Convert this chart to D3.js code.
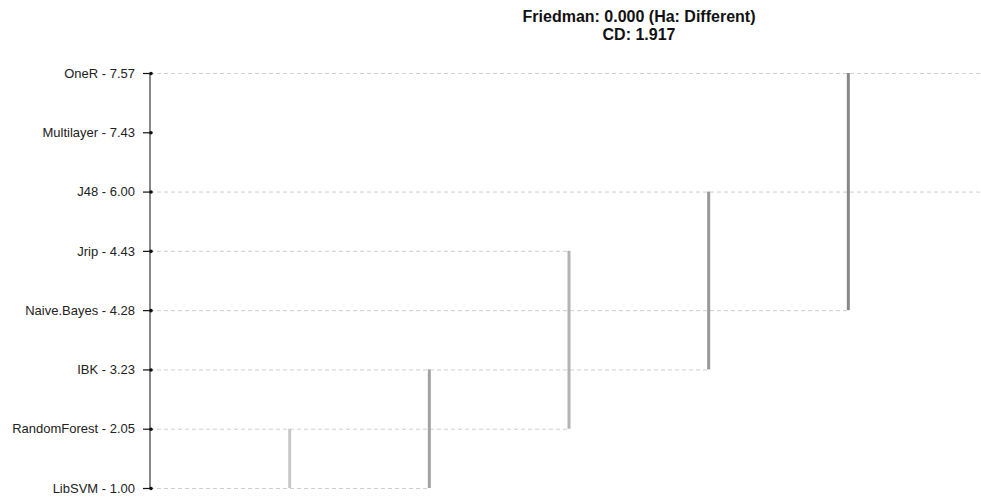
<!DOCTYPE html>
<html><head><meta charset="utf-8">
<script src="https://cdn.jsdelivr.net/npm/d3@7"></script>
<style>body{margin:0;background:#fff}svg{display:block}</style>
</head><body><svg id="c" width="981" height="497"></svg>
<script>
const categories = ["OneR","Multilayer","J48","Jrip","Naive.Bayes","IBK","RandomForest","LibSVM"];
const ranks = [7.57, 7.43, 6.00, 4.43, 4.28, 3.23, 2.05, 1.00];
// critical-difference groups: [from category, to category]
const groupFrom = ["LibSVM","LibSVM","RandomForest","IBK","Naive.Bayes"];
const groupTo = ["RandomForest","IBK","Jrip","J48","OneR"];
const groupColors = ["#c8c8c8","#a2a2a2","#b2b2b2","#999999","#888888"];
// gridline reach per category: index of group bar it reaches (-1 none, 99 full width)
const gridReach = [99, -1, 99, 3, 5, 4, 3, 2];
const title1 = "Friedman: 0.000 (Ha: Different)";
const title2 = "CD: 1.917";

const svg = d3.select("#c");
const W = 981;
const y = d3.scalePoint().domain(categories).range([73, 488]);
const x = d3.scaleLinear().domain([0, 6]).range([150, 988]);

// gridlines
svg.append("g").selectAll("line").data(categories.map((c,i)=>({c,r:gridReach[i]})).filter(d=>d.r>=0))
  .join("line")
  .attr("x1", x(0)).attr("x2", d => d.r === 99 ? W : x(d.r))
  .attr("y1", d => y(d.c)+0.5).attr("y2", d => y(d.c)+0.5)
  .attr("stroke", "#cfcfcf").attr("stroke-width", 1).attr("stroke-dasharray", "4,3");

// axis
const axis = d3.axisLeft(y).tickSize(7).tickPadding(8)
  .tickFormat((d,i) => d + " - " + ranks[i].toFixed(2));
const ag = svg.append("g").attr("transform", `translate(${x(0)},0)`).call(axis);
ag.select(".domain").attr("stroke", "#888").attr("stroke-width", 2).attr("d", `M0,${y(categories[0])}V${y(categories[categories.length-1])}`);
ag.selectAll(".tick line").attr("stroke", "#111").attr("stroke-width", 1.2);
ag.selectAll(".tick text").attr("font-family", "Liberation Sans, Arial, sans-serif").attr("font-size", 13).attr("fill", "#222");
ag.selectAll(".tick").append("circle").attr("cx", 1).attr("cy", 0).attr("r", 1.8).attr("fill", "#111");

// group bars
svg.append("g").selectAll("line").data(groupFrom.map((f,i)=>({f,t:groupTo[i],i})))
  .join("line")
  .attr("x1", d => x(d.i+1)).attr("x2", d => x(d.i+1))
  .attr("y1", d => y(d.f)).attr("y2", d => y(d.t))
  .attr("stroke", d => groupColors[d.i]).attr("stroke-width", 3);

// title
const tg = svg.append("g").attr("font-family", "Liberation Sans, Arial, sans-serif").attr("font-weight", "bold").attr("font-size", 16).attr("text-anchor", "middle").attr("fill", "#111");
tg.append("text").attr("x", 639).attr("y", 22).text(title1);
tg.append("text").attr("x", 639).attr("y", 40).text(title2);
</script></body></html>
